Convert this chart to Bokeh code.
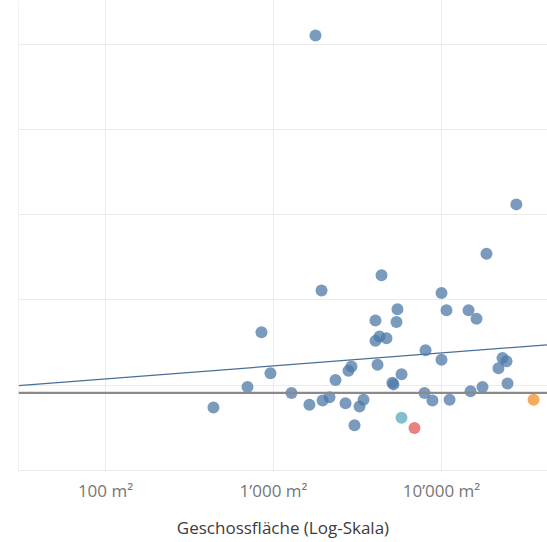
import numpy as np
from bokeh.plotting import figure
from bokeh.models import FixedTicker, Range1d, Span, ColumnDataSource
from bokeh.embed import file_html
from bokeh.resources import INLINE

# ---- data ----
flaeche = [1778, 27900, 18530, 4395, 1931, 10000, 5470, 10710, 14490, 16160,
           4045, 5395, 848, 4275, 4045, 4705, 8035, 10000, 23070, 24380,
           4160, 2911, 2794, 21830, 959, 5781, 2339, 5103, 5180, 24720,
           17540, 700, 14890, 1279, 7925, 2154, 3435, 11170, 1960, 8830,
           2683, 1636, 3250, 439, 3035, 5781, 6905, 35320]
wert = [5.10, 3.12, 2.54, 2.29, 2.11, 2.08, 1.89, 1.88, 1.88, 1.78,
        1.76, 1.74, 1.62, 1.57, 1.52, 1.55, 1.41, 1.30, 1.32, 1.28,
        1.24, 1.22, 1.17, 1.20, 1.14, 1.13, 1.06, 1.03, 1.01, 1.02,
        0.98, 0.98, 0.93, 0.91, 0.91, 0.86, 0.83, 0.83, 0.82, 0.82,
        0.79, 0.77, 0.75, 0.74, 0.53, 0.62, 0.50, 0.83]
kategorie = ["blau"] * 45 + ["tuerkis", "rot", "orange"]
farben = {"blau": "#4e79a7", "tuerkis": "#5aa9bd", "rot": "#e15759", "orange": "#f28e2b"}

x_ticks = [100, 1000, 10000]
x_tick_labels = ["100 m\u00b2", "1\u2019000 m\u00b2", "10\u2019000 m\u00b2"]
y_grid = [0, 1, 2, 3, 4, 5]
referenz_wert = 0.91
trend_achsenabschnitt = 1.074   # value at 100 m2
trend_steigung = 0.152          # per decade

x_start, x_end = 10 ** 1.482, 10 ** 4.631
y_start, y_end = -0.023, 5.51

p = figure(width=547, height=542, x_axis_type="log",
           x_range=Range1d(x_start, x_end), y_range=Range1d(y_start, y_end),
           output_backend="svg", toolbar_location=None, y_axis_location=None,
           min_border_left=18, min_border_right=0, min_border_top=0,
           min_border_bottom=70)
p.outline_line_color = None
p.background_fill_color = "white"

p.xgrid.ticker = FixedTicker(ticks=x_ticks)
p.ygrid.ticker = FixedTicker(ticks=y_grid)
p.xgrid.grid_line_color = "#ebebeb"
p.ygrid.grid_line_color = "#ebebeb"

ax = p.xaxis[0]
ax.ticker = FixedTicker(ticks=x_ticks)
ax.major_label_overrides = {t: l for t, l in zip(x_ticks, x_tick_labels)}
ax.axis_line_color = None
ax.major_tick_line_color = None
ax.minor_tick_line_color = None
ax.major_tick_out = 0
ax.major_tick_in = 0
ax.major_label_standoff = 6
ax.major_label_text_font = "Open Sans"
ax.major_label_text_font_size = "17px"
ax.major_label_text_color = "#767676"
ax.axis_label = "Geschossfl\u00e4che (Log-Skala)"
ax.axis_label_text_font = "Open Sans"
ax.axis_label_text_font_size = "17px"
ax.axis_label_text_font_style = "normal"
ax.axis_label_text_color = "#3c3c3c"
ax.axis_label_standoff = 11

p.add_layout(Span(location=x_start, dimension="height", line_color="#e6e6e6", line_width=1))

# trend line
tx = np.array([x_start, x_end])
ty = trend_achsenabschnitt + trend_steigung * (np.log10(tx) - 2)
p.line(tx, ty, line_color="#4a6f96", line_width=1.2)

# reference line
p.add_layout(Span(location=referenz_wert, dimension="width", line_color="#8a8a8a", line_width=2.2))

src = ColumnDataSource(dict(x=flaeche, y=wert, c=[farben[k] for k in kategorie]))
p.scatter("x", "y", source=src, size=12, fill_color="c", fill_alpha=0.75, line_color=None)

open("out.html", "w").write(file_html(p, INLINE))
